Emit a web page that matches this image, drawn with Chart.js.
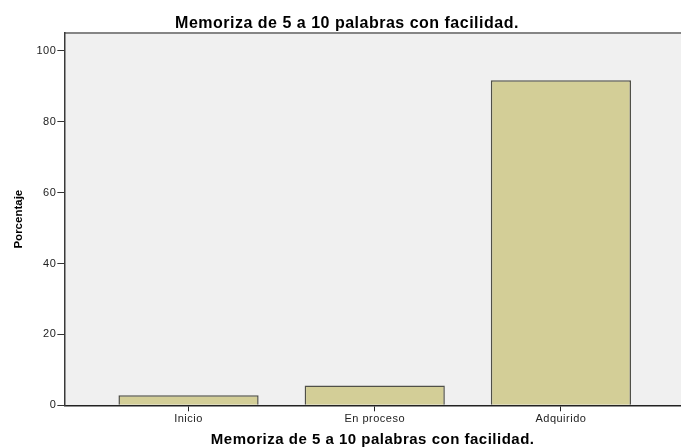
<!DOCTYPE html>
<html><head><meta charset="utf-8">
<script src="https://cdn.jsdelivr.net/npm/chart.js@4"></script>
<style>html,body{margin:0;padding:0;background:#fff;overflow:hidden}#w{width:681px;height:447px}</style>
</head><body><div id="w"><canvas id="c"></canvas></div>
<script>
const categories = ["Inicio", "En proceso", "Adquirido"];
const values = [2.8, 5.6, 91.7];
const yTicks = [0, 20, 40, 60, 80, 100];
const titleText = "Memoriza de 5 a 10 palabras con facilidad.";
const yTitle = "Porcentaje";

const SPACING = '0.5px';

const bgPlugin = {
  id: 'bg',
  beforeUpdate(chart) { chart.ctx.letterSpacing = SPACING; },
  afterUpdate(chart) {
    const s = chart.scales.y;
    if (s && !s.__patched) {
      const orig = s.drawTitle.bind(s);
      s.drawTitle = function () {
        const c = this.ctx; const ls = c.letterSpacing;
        c.letterSpacing = '0px'; orig(); c.letterSpacing = ls;
      };
      s.__patched = true;
    }
  },
  beforeDraw(chart) {
    const {ctx, chartArea: a} = chart;
    ctx.letterSpacing = SPACING;
    ctx.save();
    ctx.fillStyle = '#f0f0f0';
    ctx.fillRect(a.left, a.top, a.right - a.left, a.bottom - a.top);
    ctx.strokeStyle = '#858585';
    ctx.lineWidth = 2;
    ctx.beginPath();
    ctx.moveTo(a.left, a.top);
    ctx.lineTo(a.right, a.top);
    ctx.stroke();
    ctx.restore();
  }
};

new Chart(document.getElementById('c'), {
  type: 'bar',
  data: {
    datasets: [{
      data: values.map((v, i) => ({x: i, y: v})),
      backgroundColor: '#d3ce97',
      borderColor: '#505048',
      borderWidth: 1.5,
      barPercentage: 0.753,
      categoryPercentage: 1
    }]
  },
  options: {
    responsive: true,
    maintainAspectRatio: false,
    animation: false,
    layout: {padding: {left: 13, right: 0, top: 0, bottom: 0}},
    plugins: {
      legend: {display: false},
      tooltip: {enabled: false},
      title: {
        display: true, text: titleText, color: '#000',
        font: {family: 'Liberation Sans', size: 16, weight: 'bold', lineHeight: 1},
        padding: {top: 15.5, bottom: 1.5}
      }
    },
    scales: {
      x: {
        type: 'linear',
        offset: false,
        min: -0.667, max: 2.645,
        afterBuildTicks: (s) => { s.ticks = categories.map((c, i) => ({value: i})); },
        ticks: {
          callback: (v) => categories[v],
          color: '#222', font: {family: 'Liberation Sans', size: 11}, padding: 1,
          autoSkip: false, maxRotation: 0
        },
        grid: {display: true, drawOnChartArea: false, drawTicks: true, tickLength: 6, color: '#222', offset: false},
        border: {display: true, color: '#222', width: 1.5},
        title: {
          display: true, text: titleText, color: '#000',
          font: {family: 'Liberation Sans', size: 15, weight: 'bold', lineHeight: 1},
          padding: {top: 5.5, bottom: 0}
        }
      },
      y: {
        min: 0, max: 105,
        afterBuildTicks: (s) => { s.ticks = yTicks.map(v => ({value: v})); },
        ticks: {color: '#222', font: {family: 'Liberation Sans', size: 11}, padding: 1},
        grid: {display: true, drawOnChartArea: false, drawTicks: true, tickLength: 7, color: '#333'},
        border: {display: true, color: '#3a3a3a', width: 1.5},
        title: {
          display: true, text: yTitle, color: '#000',
          font: {family: 'Liberation Sans', size: 11.5, weight: 'bold', lineHeight: 1},
          padding: {top: 0, bottom: 11}
        }
      }
    }
  },
  plugins: [bgPlugin]
});
</script>
</body></html>
